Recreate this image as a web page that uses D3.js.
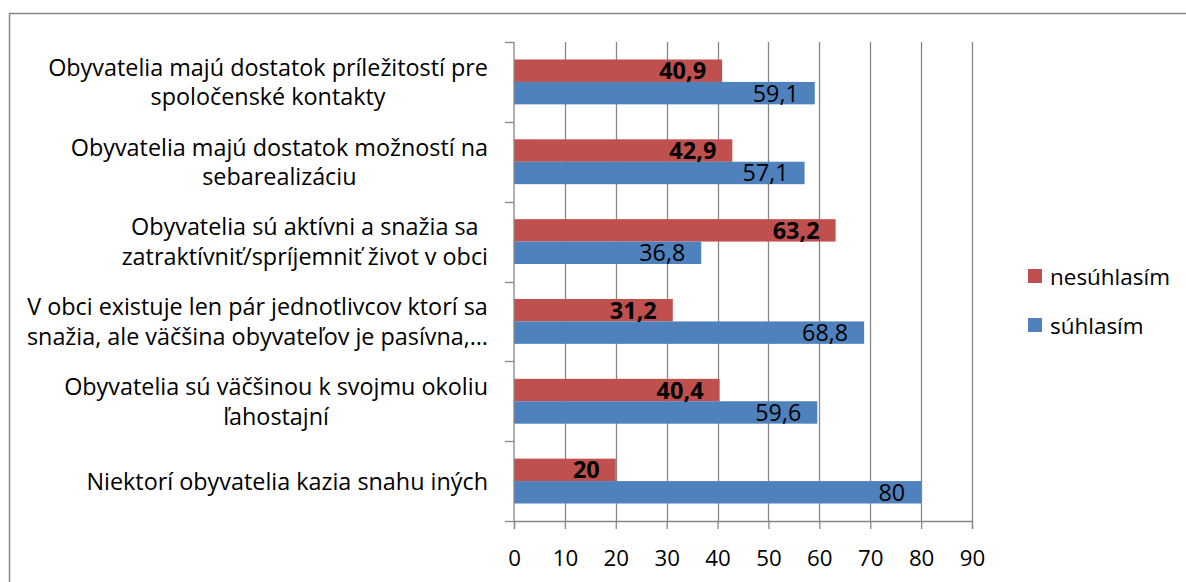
<!DOCTYPE html>
<html><head><meta charset="utf-8">
<script src="https://cdn.jsdelivr.net/npm/d3@7"></script>
<style>body{margin:0;background:#fff}svg{display:block}text{font-family:"Open Sans","Noto Sans",Lato,sans-serif;fill:#000}</style>
</head><body><svg id="c" width="1186" height="582"></svg>
<script>
const categories = [
  ["Obyvatelia majú dostatok príležitostí pre", "spoločenské kontakty"],
  ["Obyvatelia majú dostatok možností na", "sebarealizáciu"],
  ["Obyvatelia sú aktívni a snažia sa", "zatraktívniť/spríjemniť život v obci"],
  ["V obci existuje len pár jednotlivcov ktorí sa", "snažia, ale väčšina obyvateľov je pasívna,…"],
  ["Obyvatelia sú väčšinou k svojmu okoliu", "ľahostajní"],
  ["Niektorí obyvatelia kazia snahu iných"]
];
const seriesNames = ["nesúhlasím", "súhlasím"];
const nesuhlasim = [40.9, 42.9, 63.2, 31.2, 40.4, 20];
const suhlasim = [59.1, 57.1, 36.8, 68.8, 59.6, 80];
const xTicks = [0,10,20,30,40,50,60,70,80,90];
const colors = ["#C0504D", "#4F81BD"];

const svg = d3.select("#c");
const m = {left:514, right:972, top:42, bottom:521};
const x = d3.scaleLinear().domain([0,90]).range([m.left, m.right]);
const y = d3.scaleBand().domain(d3.range(categories.length)).range([m.top, m.bottom]).paddingInner(0).paddingOuter(0);
const inner = d3.scaleBand().domain([0,1]).range([0, y.bandwidth()]).paddingOuter(0.78).paddingInner(0);
const grid = "#878787";

function fitSize(str, target, weight) {
  const t = svg.append("text").attr("font-size",100).attr("font-weight",weight||"normal").text(str);
  const w = t.node().getComputedTextLength();
  t.remove();
  return 100 * target / w;
}

// outer frame
svg.append("path").attr("d", `M9.5,582 L9.5,13.5 L1186,13.5`).attr("fill","none").attr("stroke","#888").attr("stroke-width",1.5);

// gridlines
svg.append("g").selectAll("line").data(xTicks.slice(1)).join("line")
  .attr("x1", d=>Math.round(x(d))+0.5).attr("x2", d=>Math.round(x(d))+0.5)
  .attr("y1", m.top).attr("y2", m.bottom).attr("stroke", grid).attr("stroke-width",1.3);

// bars
const data = [nesuhlasim, suhlasim];
const bars = svg.append("g");
data.forEach((vals, s) => {
  bars.selectAll(null).data(vals).join("rect")
    .attr("x", x(0)).attr("y", (d,i)=>y(i)+inner(s))
    .attr("width", d=>x(d)-x(0)).attr("height", inner.bandwidth())
    .attr("fill", colors[s]);
});

// x axis
const tickFont = fitSize("10", 25.5);
const xAxis = d3.axisBottom(x).tickValues(xTicks).tickSize(8).tickFormat(d3.format("d"));
const gx = svg.append("g").attr("transform",`translate(0,${m.bottom})`).call(xAxis);
gx.select(".domain").attr("stroke", grid).attr("stroke-width",1.3);
gx.selectAll(".tick line").attr("stroke", grid).attr("stroke-width",1.3);
gx.selectAll(".tick text").attr("font-size",tickFont).attr("font-family",null).attr("fill","#000")
  .attr("y", 45).attr("dy", null);

// y axis
svg.append("line").attr("x1",m.left).attr("x2",m.left).attr("y1",m.top).attr("y2",m.bottom).attr("stroke",grid).attr("stroke-width",1.3);
svg.append("g").selectAll("line").data(d3.range(categories.length+1)).join("line")
  .attr("x1", m.left-9).attr("x2", m.left)
  .attr("y1", d=>Math.round(m.top + d*y.step())+0.5).attr("y2", d=>Math.round(m.top + d*y.step())+0.5)
  .attr("stroke", grid).attr("stroke-width",1.3);

// data labels
const fmt = v => String(v).replace(".", ",");
const dlBold = fitSize("40,9", 47, "bold");
const dlReg = fitSize("59,1", 46, "normal");
data.forEach((vals, s) => {
  svg.append("g").selectAll("text").data(vals).join("text")
    .attr("x", d=>x(d)-16).attr("y", (d,i)=>y(i)+inner(s)+inner.bandwidth()/2 + 8.5)
    .attr("text-anchor","end")
    .attr("font-size", s===0?dlBold:dlReg).attr("font-weight", s===0?"bold":"normal")
    .text(fmt);
});

// category labels
const labelFont = fitSize(categories[3][0], 461);
const lineH = 29.5;
const labelRight = 488;
const gl = svg.append("g");
categories.forEach((lines, i) => {
  const cy = y(i) + y.bandwidth()/2;
  const t = gl.append("text").attr("font-size", labelFont).attr("text-anchor","middle");
  const spans = lines.map((ln, k) => t.append("tspan").text(ln)
      .attr("y", cy + (k - (lines.length-1)/2)*lineH + 8.5));
  const maxW = d3.max(spans, s => s.node().getComputedTextLength());
  spans.forEach(s => s.attr("x", labelRight - maxW/2));
});

// legend
const legFont = fitSize(seriesNames[0], 120);
const lg = svg.append("g");
seriesNames.forEach((n, s) => {
  const yy = 276 + s*49;
  lg.append("rect").attr("x",1028).attr("y",yy-7).attr("width",14).attr("height",14).attr("fill",colors[s]);
  lg.append("text").attr("x",1050).attr("y",yy+9).attr("font-size",legFont).text(n);
});
</script></body></html>
